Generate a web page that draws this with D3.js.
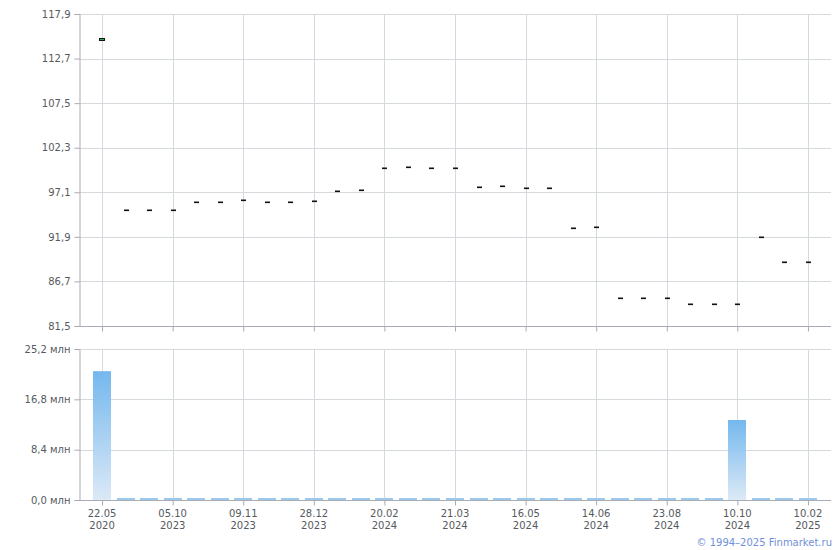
<!DOCTYPE html>
<html><head><meta charset="utf-8">
<script src="https://cdn.jsdelivr.net/npm/d3@7"></script>
<style>body{margin:0;background:#fff}svg{display:block;font-family:"DejaVu Sans",Verdana,sans-serif}</style>
</head><body><svg id="c" width="840" height="550"></svg>
<script>
const dates = ["22.05.2020","xx.xx.2023a","xx.xx.2023b","05.10.2023","p4","p5","09.11.2023","p7","p8","28.12.2023","p10","p11","20.02.2024","p13","p14","21.03.2024","p16","p17","16.05.2024","p19","p20","14.06.2024","p22","p23","23.08.2024","p25","p26","10.10.2024","p28","p29","10.02.2025"];
const opens  = [115.0,95.0,95.0,95.0,95.93,95.93,96.16,95.93,95.93,96.05,97.21,97.33,99.9,100.05,99.9,99.9,97.72,97.83,97.56,97.56,92.9,93.05,84.73,84.73,84.73,84.03,84.03,84.03,91.88,88.93,88.93];
const closes = [114.75,95.0,95.0,95.0,95.93,95.93,96.16,95.93,95.93,96.05,97.21,97.33,99.9,100.05,99.9,99.9,97.72,97.83,97.56,97.56,92.9,93.05,84.73,84.73,84.73,84.03,84.03,84.03,91.88,88.93,88.93];
const volumes = [21.5,0.2,0.2,0.2,0.2,0.2,0.2,0.2,0.2,0.2,0.2,0.2,0.2,0.2,0.2,0.2,0.2,0.2,0.2,0.2,0.2,0.2,0.2,0.2,0.2,0.2,0.2,13.35,0.2,0.2,0.2];
const priceTicks = [81.5,86.7,91.9,97.1,102.3,107.5,112.7,117.9];
const volTicks = [0,8.4,16.8,25.2];
const labelIdx = [0,3,6,9,12,15,18,21,24,27,30];
const footer = "© 1994–2025 Finmarket.ru";

const svg = d3.select("#c");
const L = 79, R = 831;
const idx = d3.range(dates.length);
const x = d3.scalePoint().domain(idx).range([L, R]).padding(0.98);
const yP = d3.scaleLinear().domain([81.5,117.9]).range([326,14]);
const yV = d3.scaleLinear().domain([0,25.2]).range([500,349]);
const fmt = v => v.toFixed(1).replace(".", ",");
const grid = "#d5dade", axisC = "#a8abb3", txt = "#555a60";

const defs = svg.append("defs");
const g = defs.append("linearGradient").attr("id","vg").attr("x1",0).attr("y1",0).attr("x2",0).attr("y2",1);
g.append("stop").attr("offset","0%").attr("stop-color","#74b8ee");
g.append("stop").attr("offset","100%").attr("stop-color","#dce9f6");

function panel(y, ticks, fmtFn, top, bottom){
  const p = svg.append("g");
  p.selectAll(".hg").data(ticks).join("line")
    .attr("x1",L).attr("x2",R).attr("y1",d=>Math.round(y(d))+0.5).attr("y2",d=>Math.round(y(d))+0.5)
    .attr("stroke",grid);
  p.selectAll(".vg").data(labelIdx).join("line")
    .attr("x1",d=>Math.round(x(d))+0.5).attr("x2",d=>Math.round(x(d))+0.5).attr("y1",top).attr("y2",bottom)
    .attr("stroke",grid);
  const ax = p.append("g").attr("transform",`translate(${L+0.5},0)`)
    .call(d3.axisLeft(y).tickValues(ticks).tickFormat(fmtFn).tickSize(5).tickPadding(4));
  ax.select(".domain").attr("stroke",axisC);
  ax.selectAll(".tick line").attr("stroke",axisC);
  ax.selectAll("text").attr("fill",txt).attr("font-size",10).attr("font-family","DejaVu Sans, Verdana, sans-serif");
  const bx = p.append("g").attr("transform",`translate(0,${Math.round(bottom)+0.5})`)
    .call(d3.axisBottom(x).tickValues(labelIdx).tickSize(5).tickFormat(""));
  bx.select(".domain").attr("stroke",axisC).attr("d",`M${L},0H${R}`);
  bx.selectAll(".tick line").attr("stroke",axisC);
  return p;
}
panel(yP, priceTicks, fmt, 14, 326);
const vp = panel(yV, volTicks, d=>fmt(d)+" млн", 349, 500);

// volume bars
const bw = 18;
svg.append("g").selectAll("rect").data(idx).join("rect")
  .attr("x",i=>Math.round(x(i)-bw/2)).attr("width",bw)
  .attr("y",i=>Math.min(yV(volumes[i]), 498))
  .attr("height",i=>Math.max(500-yV(volumes[i]), 2))
  .attr("fill",i=> volumes[i] > 1 ? "url(#vg)" : "#9cc8ee");

// candles
const cg = svg.append("g");
idx.forEach(i=>{
  const o = opens[i], c = closes[i];
  const cx = Math.round(x(i));
  if (Math.abs(yP(o)-yP(c)) < 1) {
    cg.append("rect").attr("x",cx-2).attr("y",Math.round(yP(c))-0.5).attr("width",5).attr("height",1.6).attr("fill","#111");
  } else {
    const y0 = Math.round(Math.min(yP(o),yP(c)));
    const h = Math.max(Math.round(Math.abs(yP(o)-yP(c))),2);
    cg.append("rect").attr("x",cx-2.5).attr("y",y0-0.5).attr("width",5).attr("height",h)
      .attr("fill", c>=o ? "#d0262a" : "#22b14c").attr("stroke","#111").attr("stroke-width",1);
  }
});

// x labels
const xl = svg.append("g");
labelIdx.forEach(i=>{
  const parts = dates[i].split(".");
  const t = xl.append("text").attr("x",x(i)).attr("text-anchor","middle").attr("fill",txt).attr("font-size",10);
  t.append("tspan").attr("x",x(i)).attr("y",517).text(parts[0]+"."+parts[1]);
  t.append("tspan").attr("x",x(i)).attr("y",529).text(parts[2]);
});
svg.append("text").attr("x",832).attr("y",546).attr("text-anchor","end").attr("fill","#6f8fd8").attr("font-size",10).text(footer);
</script></body></html>
